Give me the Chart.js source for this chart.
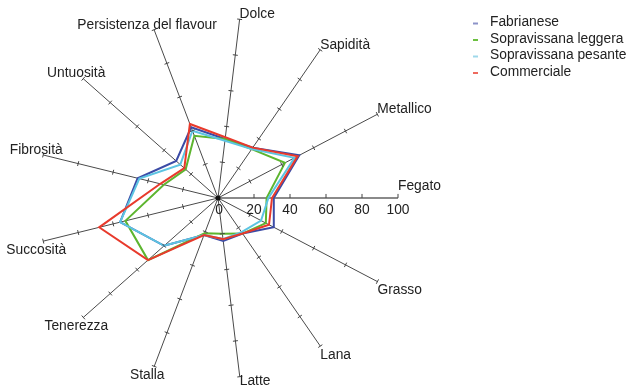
<!DOCTYPE html>
<html>
<head>
<meta charset="utf-8">
<script src="https://cdn.jsdelivr.net/npm/chart.js@4/dist/chart.umd.min.js"></script>
<style>
    body { margin: 0; background: #fff; }
    #wrap { position: relative; width: 629px; height: 389px; }
</style>
</head>
<body>
<div id="wrap"><canvas id="myChart"></canvas></div>
<script>
// axes, clockwise starting from the top one
const labels = ['Dolce', 'Sapidità', 'Metallico', 'Fegato', 'Grasso', 'Lana', 'Latte',
    'Stalla', 'Tenerezza', 'Succosità', 'Fibrosità', 'Untuosità', 'Persistenza del flavour'];

const fabrianese = [33, 34, 51, 31, 35, 24, 24, 22, 40, 56, 46, 31, 42];
const sopravissanaLeggera = [33, 33, 42, 27, 30, 24, 20, 21, 52, 53, 31, 24, 37];
const sopravissanaPesante = [32, 33, 48, 28, 27, 23, 23, 22, 40, 56, 45, 28, 40];
const commerciale = [34, 34, 50, 30, 32, 24, 23, 22, 52, 68, 33, 25, 44];

const tickValues = [0, 20, 40, 60, 80, 100];
const scaleAxisIndex = 3; // Fegato carries the numbers

const font = '13.8px "Liberation Sans", Arial, sans-serif';

// tick marks, axis names, numbers and the legend
const axisDecor = {
    id: 'axisDecor',
    afterDatasetsDraw(chart) {
        const ctx = chart.ctx;
        const r = chart.scales.r;
        ctx.save();

        // small tick marks on each axis
        ctx.strokeStyle = '#444';
        ctx.lineWidth = 1;
        for (let i = 0; i < labels.length; i++) {
            const a = r.getIndexAngle(i) - Math.PI / 2;
            const px = -Math.sin(a), py = Math.cos(a);
            tickValues.forEach(v => {
                if (v === 0) return;
                const p = r.getPointPosition(i, r.getDistanceFromCenterForValue(v));
                ctx.beginPath();
                if (i === scaleAxisIndex) {
                    ctx.moveTo(p.x, p.y);
                    ctx.lineTo(p.x, p.y - 4);
                } else {
                    ctx.moveTo(p.x - px * 2.5, p.y - py * 2.5);
                    ctx.lineTo(p.x + px * 2.5, p.y + py * 2.5);
                }
                ctx.stroke();
            });
        }

        // centre dot
        ctx.fillStyle = '#111';
        ctx.beginPath();
        ctx.arc(r.xCenter, r.yCenter, 2.5, 0, Math.PI * 2);
        ctx.fill();

        ctx.font = font;
        ctx.fillStyle = '#222';
        ctx.textBaseline = 'middle';

        // numbers under the Fegato axis
        ctx.textAlign = 'center';
        tickValues.forEach(v => {
            const p = r.getPointPosition(scaleAxisIndex, r.getDistanceFromCenterForValue(v));
            ctx.fillText(String(v), p.x + (v === 0 ? 1 : 0), p.y + 12);
        });

        // axis names near the ends
        labels.forEach((name, i) => {
            const end = r.getPointPosition(i, r.drawingArea);
            const dx = end.x - r.xCenter;
            const dy = end.y - r.yCenter;
            let x, y;
            if (dx > 5) {
                ctx.textAlign = 'left';
                x = end.x;
            } else {
                ctx.textAlign = 'center';
                x = end.x - 7;
            }
            if (Math.abs(dy) < 5) {
                y = end.y - 12;
            } else if (dy < 0) {
                y = end.y - 5;
            } else {
                y = end.y + (dx > 5 && dx < 40 ? 5 : 9);
            }
            ctx.fillText(name, x, y);
        });

        // legend
        ctx.textAlign = 'left';
        chart.data.datasets.forEach((ds, i) => {
            const y = 22.5 + i * 16.5;
            ctx.strokeStyle = ds.legendColor;
            ctx.lineWidth = 2;
            ctx.beginPath();
            ctx.moveTo(473, y + 1);
            ctx.lineTo(478, y + 1);
            ctx.stroke();
            ctx.fillStyle = '#222';
            ctx.fillText(ds.label, 490, y);
        });

        ctx.restore();
    }
};

function makeChart() {
    const ctx = document.getElementById('myChart').getContext('2d');
    const data = {
        labels: labels,
        datasets: [
            {
                label: 'Fabrianese',
                data: fabrianese,
                borderColor: '#3b4ba6',
                legendColor: '#8c93c8',
                order: 3
            },
            {
                label: 'Sopravissana leggera',
                data: sopravissanaLeggera,
                borderColor: '#5db52f',
                legendColor: '#6cc040',
                order: 2
            },
            {
                label: 'Sopravissana pesante',
                data: sopravissanaPesante,
                borderColor: '#5cc4e2',
                legendColor: '#9ed8ea',
                order: 1
            },
            {
                label: 'Commerciale',
                data: commerciale,
                borderColor: '#e83a2c',
                legendColor: '#ee6a5e',
                order: 0
            }
        ]
    };
    data.datasets.forEach(ds => {
        ds.fill = false;
        ds.borderWidth = 2;
        ds.pointRadius = 0;
        ds.tension = 0;
    });

    new Chart(ctx, {
        type: 'radar',
        data: data,
        options: {
            responsive: true,
            maintainAspectRatio: false,
            animation: false,
            layout: {
                padding: { left: 38, right: 230, top: 18, bottom: 10 }
            },
            scales: {
                r: {
                    min: 0,
                    max: 100,
                    startAngle: 6.9,
                    grid: { display: false },
                    ticks: { display: false, stepSize: 20 },
                    pointLabels: { display: false },
                    angleLines: {
                        display: true,
                        color: (c) => c.index === scaleAxisIndex ? '#8a8a8a' : '#4a4a4a',
                        lineWidth: (c) => c.index === scaleAxisIndex ? 2 : 1
                    }
                }
            },
            plugins: {
                legend: { display: false },
                tooltip: { enabled: false }
            }
        },
        plugins: [axisDecor]
    });
}

makeChart();
</script>
</body>
</html>
